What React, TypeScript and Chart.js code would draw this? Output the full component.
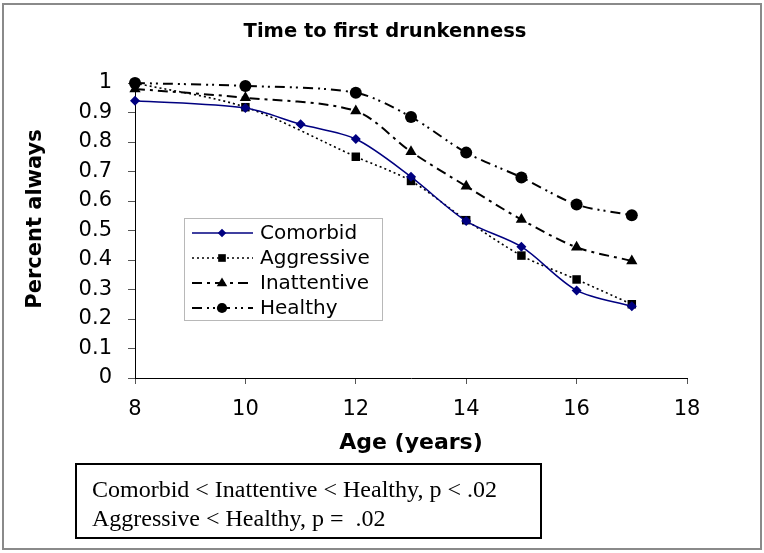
import React, { useEffect, useRef } from 'react';
import { Chart, registerables } from 'chart.js';

Chart.register(...registerables);

const chartTitle = 'Time to first drunkenness';
const xTitle = 'Age (years)';
const yTitle = 'Percent always';

const comorbidAges = [8, 10, 11, 12, 13, 14, 15, 16, 17];
const comorbidValues = [0.94, 0.915, 0.86, 0.81, 0.682, 0.532, 0.445, 0.297, 0.243];

const aggressiveAges = [8, 10, 12, 13, 14, 15, 16, 17];
const aggressiveValues = [1.0, 0.918, 0.75, 0.668, 0.535, 0.415, 0.334, 0.25];

const inattentiveAges = [8, 10, 12, 13, 14, 15, 16, 17];
const inattentiveValues = [0.98, 0.95, 0.905, 0.767, 0.65, 0.537, 0.443, 0.397];

const healthyAges = [8, 10, 12, 13, 14, 15, 16, 17];
const healthyValues = [1.0, 0.99, 0.967, 0.885, 0.764, 0.68, 0.588, 0.552];

const statsLines = [
  'Comorbid < Inattentive < Healthy, p < .02',
  'Aggressive < Healthy, p =  .02',
];

const SANS = '"DejaVu Sans", Arial, sans-serif';
const SERIF = '"Liberation Serif", "Times New Roman", serif';
const NAVY = '#000080';

const toPoints = (xs: number[], ys: number[]) => xs.map((x, i) => ({ x, y: ys[i] }));

function drawMarker(ctx: CanvasRenderingContext2D, style: string, x: number, y: number, r: number, color: string) {
  ctx.save();
  ctx.fillStyle = color;
  ctx.beginPath();
  if (style === 'circle') {
    ctx.arc(x, y, r, 0, Math.PI * 2);
  } else if (style === 'rect') {
    ctx.rect(x - r * 0.75, y - r * 0.75, r * 1.5, r * 1.5);
  } else if (style === 'triangle') {
    ctx.moveTo(x, y - r);
    ctx.lineTo(x + r * 0.95, y + r * 0.6);
    ctx.lineTo(x - r * 0.95, y + r * 0.6);
    ctx.closePath();
  } else if (style === 'rectRot') {
    ctx.moveTo(x, y - r);
    ctx.lineTo(x + r, y);
    ctx.lineTo(x, y + r);
    ctx.lineTo(x - r, y);
    ctx.closePath();
  }
  ctx.fill();
  ctx.restore();
}

const extrasPlugin = {
  id: 'extras',
  afterDraw(chart: any) {
    const ctx: CanvasRenderingContext2D = chart.ctx;
    ctx.save();
    // outer frame
    ctx.strokeStyle = '#8a8a8a';
    ctx.lineWidth = 2;
    ctx.strokeRect(3, 4, 758, 545);

    // title
    ctx.fillStyle = '#000';
    ctx.font = `bold 19.5px ${SANS}`;
    ctx.textAlign = 'center';
    ctx.textBaseline = 'alphabetic';
    ctx.fillText(chartTitle, 385, 37);

    // y axis title
    ctx.save();
    ctx.translate(36, 219);
    ctx.rotate(-Math.PI / 2);
    ctx.font = `bold 21px ${SANS}`;
    ctx.textAlign = 'center';
    ctx.textBaseline = 'middle';
    ctx.fillText(yTitle, 0, 0);
    ctx.restore();

    // legend
    ctx.strokeStyle = '#b8b8b8';
    ctx.lineWidth = 1;
    ctx.strokeRect(184.5, 218.5, 198, 102);
    ctx.font = `20px ${SANS}`;
    ctx.textAlign = 'left';
    ctx.textBaseline = 'middle';
    chart.data.datasets.forEach((ds: any, i: number) => {
      const y = 233 + i * 25;
      ctx.save();
      ctx.strokeStyle = ds.borderColor;
      ctx.lineWidth = ds.borderWidth;
      ctx.setLineDash(ds.borderDash || []);
      ctx.beginPath();
      ctx.moveTo(192, y);
      ctx.lineTo(253, y);
      ctx.stroke();
      ctx.restore();
      drawMarker(ctx, ds.pointStyle, 222, y, ds.pointRadius * 0.85, ds.pointBackgroundColor);
      ctx.fillStyle = '#000';
      ctx.fillText(ds.label, 260, y + 1);
    });

    // stats box
    ctx.strokeStyle = '#000';
    ctx.lineWidth = 2;
    ctx.strokeRect(76, 464, 465, 74);
    ctx.font = `24px ${SERIF}`;
    ctx.textAlign = 'left';
    ctx.textBaseline = 'alphabetic';
    ctx.fillStyle = '#000';
    statsLines.forEach((line, i) => ctx.fillText(line, 92, 497 + i * 29));
    ctx.restore();
  },
};

export default function App() {
  const canvasRef = useRef<HTMLCanvasElement | null>(null);

  useEffect(() => {
    if (!canvasRef.current) return;
    const chart = new Chart(canvasRef.current, {
      type: 'line',
      data: {
        datasets: [
          {
            label: 'Comorbid',
            data: toPoints(comorbidAges, comorbidValues),
            borderColor: NAVY,
            borderWidth: 1.5,
            pointStyle: 'rectRot',
            pointRadius: 5,
            pointBackgroundColor: NAVY,
            pointBorderColor: NAVY,
            pointBorderWidth: 0,
            tension: 0.3,
            clip: false,
          },
          {
            label: 'Aggressive',
            data: toPoints(aggressiveAges, aggressiveValues),
            borderColor: '#000',
            borderWidth: 1.6,
            borderDash: [2, 3],
            pointStyle: 'rect',
            pointRadius: 6,
            pointBackgroundColor: '#000',
            pointBorderColor: '#000',
            pointBorderWidth: 0,
            tension: 0.3,
            clip: false,
          },
          {
            label: 'Inattentive',
            data: toPoints(inattentiveAges, inattentiveValues),
            borderColor: '#000',
            borderWidth: 2,
            borderDash: [10, 5, 3, 5],
            pointStyle: 'triangle',
            pointRadius: 6.5,
            pointBackgroundColor: '#000',
            pointBorderColor: '#000',
            pointBorderWidth: 0,
            tension: 0.3,
            clip: false,
          },
          {
            label: 'Healthy',
            data: toPoints(healthyAges, healthyValues),
            borderColor: '#000',
            borderWidth: 2,
            borderDash: [10, 5, 2, 4, 2, 5],
            pointStyle: 'circle',
            pointRadius: 6,
            pointBackgroundColor: '#000',
            pointBorderColor: '#000',
            pointBorderWidth: 0,
            tension: 0.3,
            clip: false,
          },
        ],
      },
      options: {
        responsive: false,
        animation: false,
        layout: { padding: { top: 83, left: 0, right: 77, bottom: 93 } },
        plugins: {
          legend: { display: false },
          title: { display: false },
          tooltip: { enabled: false },
        },
        scales: {
          x: {
            type: 'linear',
            min: 8,
            max: 18,
            afterFit: (s: any) => {
              s.height = 82;
            },
            ticks: {
              stepSize: 2,
              color: '#000',
              padding: 13,
              font: { family: SANS, size: 21 },
            },
            grid: { drawOnChartArea: false, drawTicks: true, tickLength: 6, color: '#555' },
            border: { display: true, color: '#000', width: 1 },
            title: {
              display: true,
              text: xTitle,
              color: '#000',
              font: { family: SANS, size: 22, weight: 'bold' },
              padding: { top: 0, bottom: 4 },
            },
          },
          y: {
            type: 'linear',
            min: 0,
            max: 1,
            afterFit: (s: any) => {
              s.width = 135;
            },
            ticks: {
              stepSize: 0.1,
              color: '#000',
              padding: 16,
              font: { family: SANS, size: 21 },
              callback: (v: any) => String(Math.round(Number(v) * 10) / 10),
            },
            grid: { drawOnChartArea: false, drawTicks: true, tickLength: 7, color: '#555' },
            border: { display: true, color: '#000', width: 1 },
            title: { display: false },
          },
        },
      },
      plugins: [extrasPlugin],
    });
    return () => chart.destroy();
  }, []);

  return (
    <div style={{ position: 'fixed', left: 0, top: 0, width: 764, height: 553, background: '#fff' }}>
      <canvas ref={canvasRef} width={764} height={553} style={{ display: 'block' }} />
    </div>
  );
}
